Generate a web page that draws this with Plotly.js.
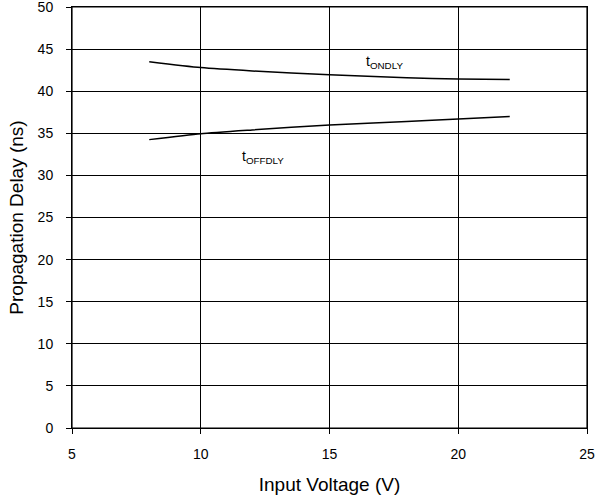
<!DOCTYPE html>
<html><head><meta charset="utf-8">
<script src="https://cdn.plot.ly/plotly-3.0.1.min.js"></script>
<style>html,body{margin:0;padding:0;background:#fff}#chart{width:612px;height:498px}</style>
</head><body><div id="chart"></div>
<script>
var voltage = [8, 10, 12, 15, 18, 20, 22];
var tOndly = [43.5, 42.8, 42.4, 41.95, 41.6, 41.45, 41.4];
var tOffdly = [34.25, 34.95, 35.4, 36.0, 36.4, 36.7, 37.0];
var xTicks = [5, 10, 15, 20, 25];
var yTicks = [0, 5, 10, 15, 20, 25, 30, 35, 40, 45, 50];

var lineStyle = {color: '#000', width: 1.5, shape: 'spline', smoothing: 0.6};
var traces = [
  {x: voltage, y: tOndly, mode: 'lines', line: lineStyle, name: 'tONDLY', showlegend: false, hoverinfo: 'skip'},
  {x: voltage, y: tOffdly, mode: 'lines', line: lineStyle, name: 'tOFFDLY', showlegend: false, hoverinfo: 'skip'}
];
var axisCommon = {
  showgrid: true, gridcolor: '#000', gridwidth: 1,
  showline: true, linecolor: '#000', linewidth: 1, mirror: true,
  ticks: 'outside', ticklen: 5, tickcolor: '#000', tickwidth: 1,
  zeroline: false, automargin: false, ticklabeloverflow: 'allow',
  tickfont: {family: 'Liberation Sans, Arial, sans-serif', size: 14, color: '#000'}
};
var layout = {
  width: 612, height: 498,
  margin: {l: 72, r: 25, t: 7, b: 70},
  paper_bgcolor: '#fff', plot_bgcolor: '#fff',
  font: {family: 'Liberation Sans, Arial, sans-serif', color: '#000'},
  xaxis: Object.assign({}, axisCommon, {
    range: [5, 25], tickvals: xTicks, ticktext: xTicks.map(String),
    ticklabelstandoff: 8,
    title: {text: 'Input Voltage (V)', font: {size: 19, color: '#000'}, standoff: 16}
  }),
  yaxis: Object.assign({}, axisCommon, {
    range: [0, 50], tickvals: yTicks, ticktext: yTicks.map(String),
    ticklabelstandoff: 10,
    title: {text: 'Propagation Delay (ns)', font: {size: 19, color: '#000'}, standoff: 8}
  }),
  shapes: [
    {type: 'rect', xref: 'x domain', yref: 'y domain', x0: 0, x1: 1, y0: 0, y1: 1,
     line: {color: '#000', width: 1.2}, fillcolor: 'rgba(0,0,0,0)', layer: 'above'}
  ],
  annotations: [
    {x: 17.15, y: 43.5, xref: 'x', yref: 'y', showarrow: false,
     text: 't<sub>ONDLY</sub>', font: {size: 14, color: '#000'}},
    {x: 12.4, y: 32.2, xref: 'x', yref: 'y', showarrow: false,
     text: 't<sub>OFFDLY</sub>', font: {size: 14, color: '#000'}}
  ]
};
Plotly.newPlot('chart', traces, layout, {displayModeBar: false, staticPlot: true});
</script></body></html>
